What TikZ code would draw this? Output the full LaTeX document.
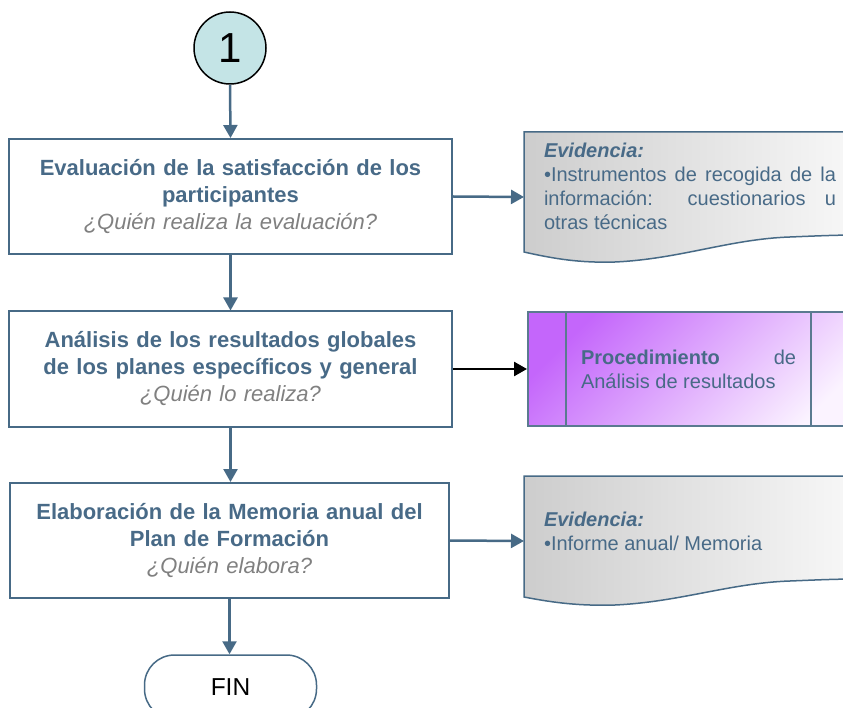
\documentclass[tikz,border=0pt]{standalone}
\usepackage{fontspec}
\setmainfont{Liberation Sans}
\usetikzlibrary{arrows.meta,shapes.geometric}
\definecolor{steel}{HTML}{476A86}
\definecolor{txtblue}{HTML}{486A87}
\definecolor{qgray}{HTML}{808080}
\definecolor{cfill}{HTML}{C4E4E6}
\definecolor{evdark}{HTML}{CDCDCD}
\definecolor{evlight}{HTML}{F6F6F6}
\definecolor{prdark}{HTML}{C466FB}
\definecolor{prlight}{HTML}{FBF3FF}
\definecolor{prborder}{HTML}{5A7A90}
\begin{document}
\begin{tikzpicture}[x=1pt,y=-1pt,
  proc/.style={draw=steel,line width=2pt,minimum height=115pt,inner sep=0pt,
    align=center,text width=436pt,text=txtblue,
    font=\fontsize{22}{27}\selectfont\bfseries},
  flow/.style={draw=steel,line width=2.5pt,-{Triangle[width=14pt,length=13pt,fill=steel]}},
  evline/.style={draw=steel,line width=1.5pt},
  evfill/.style={left color=evdark,right color=evlight},
  evtext/.style={anchor=center,inner sep=0pt,text width=292pt,align=justify,text=txtblue,
    font=\fontsize{20}{24}\selectfont},
]
\clip (0,0) rectangle (843,708);
% start circle
\node[circle,draw=black,line width=1.5pt,fill=cfill,minimum size=72pt,inner sep=0pt,
  font=\fontsize{42}{42}\selectfont] (c1) at (230,48) {1};
% process boxes
\node[proc,minimum width=443pt] (b1) at (230.5,196.5)
  {Evaluación de la satisfacción de los\\participantes\\
   {\mdseries\itshape\color{qgray}¿Quién realiza la evaluación?}};
\node[proc,minimum width=443pt] (b2) at (230.5,369)
  {Análisis de los resultados globales\\de los planes específicos y general\\
   {\mdseries\itshape\color{qgray}¿Quién lo realiza?}};
\node[proc,minimum width=439pt] (b3) at (229.5,540.5)
  {Elaboración de la Memoria anual del\\Plan de Formación\\
   {\mdseries\itshape\color{qgray}¿Quién elabora?}};
% end terminal
\node[draw=steel,line width=1.5pt,rounded corners=30pt,minimum width=172pt,minimum height=64pt,
  inner sep=0pt,font=\fontsize{24.5}{24.5}\selectfont] (fin) at (230.5,687) {FIN};
% evidence 1
\begin{scope}
  \clip (860,132) -- (524,132) -- (524,252)
    .. controls (555,259) and (580,263) .. (615,262)
    .. controls (680,259) and (730,239) .. (790,237)
    .. controls (815,236) and (835,235) .. (860,235) -- cycle;
  \shade[evfill] (524,130) rectangle (843,265);
\end{scope}
\path[evline] (860,132) -- (524,132) -- (524,252)
  .. controls (555,259) and (580,263) .. (615,262)
  .. controls (680,259) and (730,239) .. (790,237)
  .. controls (815,236) and (835,235) .. (860,235);
\coordinate (ev1w) at (524,197);
\node[evtext] (e1t) at (690,186)
  {\textbf{\itshape Evidencia:}\\
   •Instrumentos de recogida de la\linebreak información: cuestionarios u\linebreak otras técnicas};
% procedure
\node[draw=prborder,line width=1.5pt,anchor=west,minimum width=340pt,minimum height=114pt,
  top color=prdark,bottom color=prlight,shading angle=45] (pr) at (527,369) {};
\draw[prborder,line width=1.5pt] (566,312) -- (566,426);
\draw[prborder,line width=1.5pt] (811,312) -- (811,426);
\node[evtext,text width=215pt] (prt) at (688.5,369)
  {\textbf{Procedimiento} de\linebreak Análisis de resultados};
% evidence 3
\begin{scope}
  \clip (860,476) -- (524,476) -- (524,597)
    .. controls (555,603) and (580,606) .. (615,605)
    .. controls (680,602) and (730,583) .. (790,581)
    .. controls (815,580) and (835,579) .. (860,579) -- cycle;
  \shade[evfill] (524,474) rectangle (843,608);
\end{scope}
\path[evline] (860,476) -- (524,476) -- (524,597)
  .. controls (555,603) and (580,606) .. (615,605)
  .. controls (680,602) and (730,583) .. (790,581)
  .. controls (815,580) and (835,579) .. (860,579);
\coordinate (ev3w) at (524,541);
\node[evtext] (e3t) at (690,531)
  {\textbf{\itshape Evidencia:}\\
   •Informe anual/ Memoria};
% connectors
\draw[flow] (c1.south) -- (b1.north);
\draw[flow] (b1.south) -- (b2.north);
\draw[flow] (b2.south) -- (b2.south |- b3.north);
\draw[flow] (b3.south) -- (b3.south |- fin.north);
\draw[flow] (b1.east) -- (ev1w);
\draw[black,line width=2.5pt,-{Triangle[width=14pt,length=13pt]}] (b2.east) -- (pr.west);
\draw[flow] (b3.east) -- (ev3w);
\end{tikzpicture}
\end{document}
